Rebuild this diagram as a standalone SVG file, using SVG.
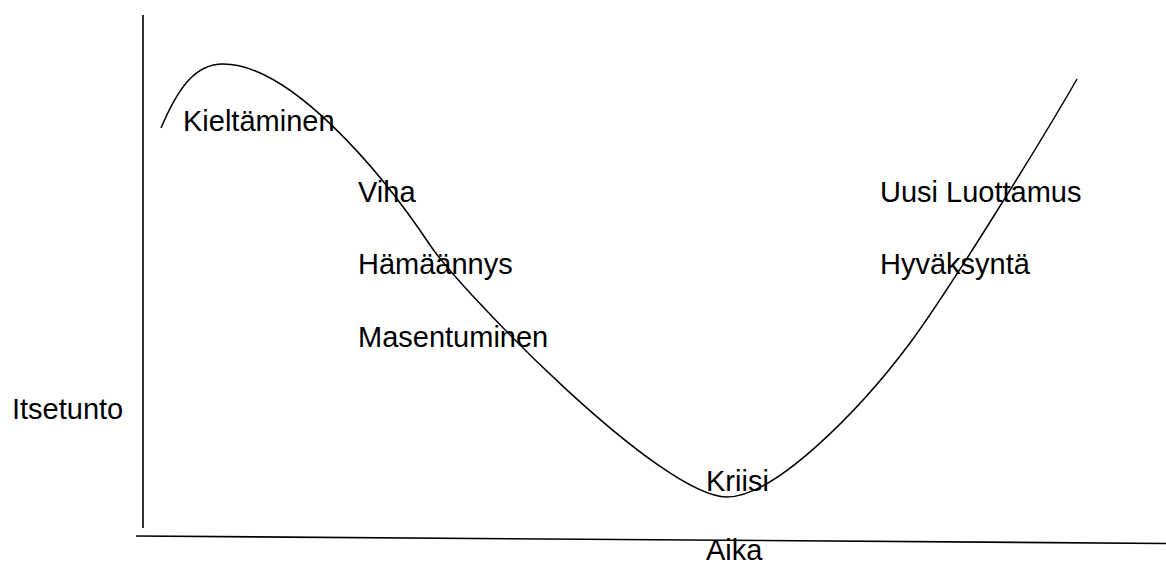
<svg xmlns="http://www.w3.org/2000/svg" width="1166" height="565" viewBox="0 0 1166 565">
<style>
.lbl{font-family:"Liberation Sans",Arial,sans-serif;font-size:29px;fill:#000}
.ax{stroke:#000;stroke-width:1.6;fill:none}
.crv{stroke:#000;stroke-width:1.5;fill:none}
</style>
<rect width="1166" height="565" fill="#fff"/>
<g id="connectors">
<line id="y-axis" class="ax" x1="143" y1="15" x2="143" y2="528"/>
<line id="x-axis" class="ax" x1="136" y1="536" x2="1166" y2="543.5"/>
<path id="curve" class="crv" d="M161,128 C178,88 195,64 223,64 C290,64 380,170 430,245 C460,290 660,497 727,497 C775,497 860,410 910,343 C950,289 1045,135 1077,79"/>
</g>
<g id="node-itsetunto"><text class="lbl" x="12" y="419">Itsetunto</text></g>
<g id="node-kieltaminen"><text class="lbl" x="183" y="131">Kieltäminen</text></g>
<g id="node-viha"><text class="lbl" x="358" y="202">Viha</text></g>
<g id="node-hamaannys"><text class="lbl" x="358" y="274">Hämäännys</text></g>
<g id="node-masentuminen"><text class="lbl" x="358" y="347">Masentuminen</text></g>
<g id="node-kriisi"><text class="lbl" x="706" y="491">Kriisi</text></g>
<g id="node-aika"><text class="lbl" x="706" y="560">Aika</text></g>
<g id="node-uusi"><text class="lbl" x="880" y="202">Uusi Luottamus</text></g>
<g id="node-hyvaksynta"><text class="lbl" x="880" y="274">Hyväksyntä</text></g>
</svg>
